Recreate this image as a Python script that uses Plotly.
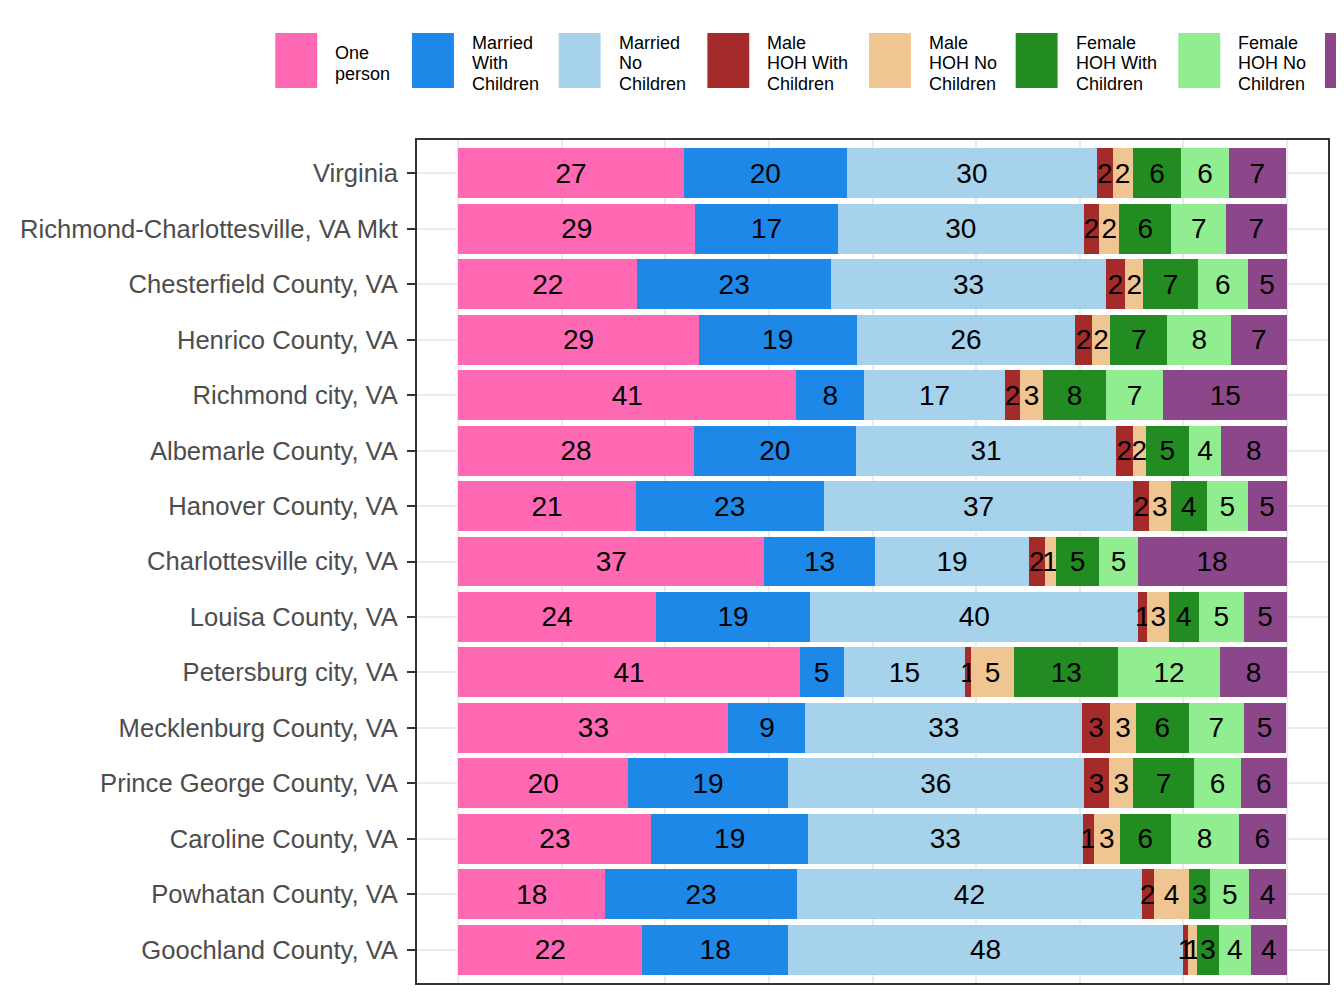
import plotly.graph_objects as go

# household type shares (%) by area
regions = [
    "Virginia",
    "Richmond-Charlottesville, VA Mkt",
    "Chesterfield County, VA",
    "Henrico County, VA",
    "Richmond city, VA",
    "Albemarle County, VA",
    "Hanover County, VA",
    "Charlottesville city, VA",
    "Louisa County, VA",
    "Petersburg city, VA",
    "Mecklenburg County, VA",
    "Prince George County, VA",
    "Caroline County, VA",
    "Powhatan County, VA",
    "Goochland County, VA",
]

household_types = [
    "One person",
    "Married With Children",
    "Married No Children",
    "Male HOH With Children",
    "Male HOH No Children",
    "Female HOH With Children",
    "Female HOH No Children",
    "Nonfamily",
]

one_person      = [27.2, 28.6, 21.6, 29.0, 40.8, 28.4, 21.4, 36.9, 23.8, 41.2, 32.6, 20.5, 23.3, 17.7, 22.2]
married_kids    = [19.7, 17.2, 23.4, 19.1, 8.2, 19.6, 22.7, 13.4, 18.7, 5.3, 9.3, 19.3, 18.9, 23.2, 17.6]
married_nokids  = [30.2, 29.7, 33.2, 26.4, 17.0, 31.4, 37.4, 18.6, 39.6, 14.7, 33.4, 35.7, 33.2, 41.6, 47.7]
male_kids       = [1.9, 1.9, 2.3, 2.0, 1.8, 2.0, 1.9, 1.9, 1.1, 0.7, 3.4, 3.1, 1.3, 1.5, 0.6]
male_nokids     = [2.4, 2.4, 2.2, 2.2, 2.8, 1.6, 2.6, 1.3, 2.6, 5.2, 3.1, 2.9, 3.2, 4.2, 1.1]
female_kids     = [5.9, 6.3, 6.6, 6.9, 7.6, 5.2, 4.4, 5.3, 3.6, 12.6, 6.4, 7.3, 6.1, 2.6, 2.6]
female_nokids   = [5.7, 6.6, 6.0, 7.7, 6.9, 3.9, 4.9, 4.6, 5.4, 12.2, 6.6, 5.7, 8.2, 4.7, 3.9]
nonfamily       = [6.9, 7.3, 4.7, 6.7, 15.0, 7.9, 4.7, 18.0, 5.2, 8.2, 5.1, 5.5, 5.7, 4.4, 4.3]

series = [one_person, married_kids, married_nokids, male_kids,
          male_nokids, female_kids, female_nokids, nonfamily]

colors = ["#FF69B4", "#1E88E8", "#A6D2EC", "#A52A2A",
          "#EFC692", "#228B22", "#90EE90", "#8B4789"]

FONT = "Arial, Liberation Sans, sans-serif"
PAGE = 8  # browser body margin, figure is drawn this far from the window corner
W, H = 1344 - PAGE, 1008 - PAGE
L, R, T, B = 415 - PAGE, 16, 140 - PAGE, 25

fig = go.Figure()
for name, vals, col in zip(household_types, series, colors):
    fig.add_trace(go.Bar(
        y=regions,
        x=vals,
        name=name,
        orientation="h",
        marker=dict(color=col, line=dict(width=0)),
        text=["%.0f" % v for v in vals],
        textposition="inside",
        insidetextanchor="middle",
        textangle=0,
        constraintext="none",
        textfont=dict(family=FONT, size=28, color="black"),
        showlegend=False,
        hoverinfo="x+y+name",
    ))


# hand-made legend above the panel (ggplot style big keys), window pixel coords
def px_x(px):
    return (px - PAGE - L) / (W - L - R)


def px_y(py):
    return (H - B - (py - PAGE)) / (H - T - B)


key_left = [273, 410, 557, 706, 868, 1015, 1178, 1325]
legend_lines = [
    ["One", "person"],
    ["Married", "With", "Children"],
    ["Married", "No", "Children"],
    ["Male", "HOH With", "Children"],
    ["Male", "HOH No", "Children"],
    ["Female", "HOH With", "Children"],
    ["Female", "HOH No", "Children"],
    [],
]

shapes = []
annotations = []
for x0, col, lines in zip(key_left, colors, legend_lines):
    shapes.append(dict(type="rect", xref="paper", yref="paper",
                       x0=px_x(x0), x1=px_x(x0 + 42),
                       y0=px_y(88), y1=px_y(33),
                       fillcolor=col, line=dict(width=0)))
    if len(lines) == 2:
        mids = [53, 74]
    else:
        mids = [42.5, 63, 83.5]
    for txt, ym in zip(lines, mids):
        annotations.append(dict(xref="paper", yref="paper",
                                x=px_x(x0 + 58), y=px_y(ym),
                                xanchor="left", yanchor="middle",
                                text=txt, showarrow=False,
                                font=dict(family=FONT, size=18, color="black")))

fig.update_layout(
    barmode="stack",
    bargap=0.1,
    width=W,
    height=H,
    margin=dict(l=L, r=R, t=T, b=B),
    plot_bgcolor="white",
    paper_bgcolor="white",
    shapes=shapes,
    annotations=annotations,
    xaxis=dict(
        range=[-5, 105],
        tick0=0,
        dtick=12.5,
        showgrid=True,
        gridcolor="#EBEBEB",
        gridwidth=1.5,
        showticklabels=False,
        ticks="",
        zeroline=False,
        showline=True,
        mirror=True,
        linecolor="#333333",
        linewidth=2,
    ),
    yaxis=dict(
        categoryorder="array",
        categoryarray=regions,
        range=[len(regions) - 0.4, -0.6],
        showgrid=True,
        gridcolor="#EBEBEB",
        gridwidth=1.5,
        ticks="outside",
        ticklen=8,
        tickwidth=2,
        tickcolor="#333333",
        ticklabelstandoff=4,
        tickfont=dict(family=FONT, size=25.6, color="#4D4D4D"),
        zeroline=False,
        showline=True,
        mirror=True,
        linecolor="#333333",
        linewidth=2,
    ),
)

fig.write_html("out.html")
